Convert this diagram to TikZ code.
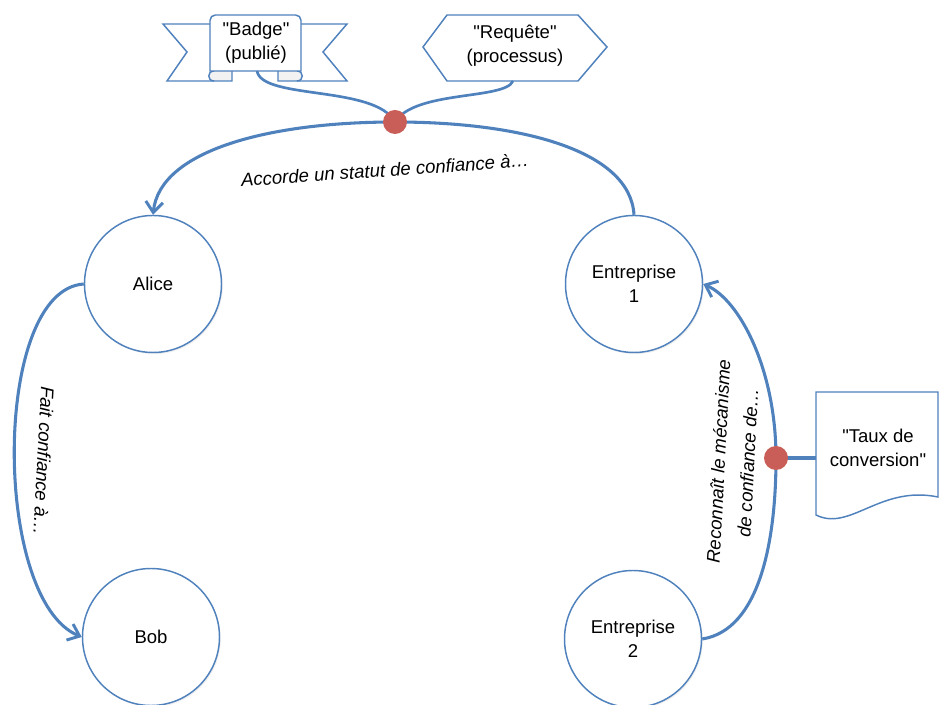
\documentclass[tikz,border=0pt]{standalone}
\usepackage{fontspec}
\setmainfont{Liberation Sans}
\usetikzlibrary{arrows.meta,shadows}
\definecolor{linkblue}{RGB}{79,129,189}
\definecolor{dotred}{RGB}{201,94,88}
\newcommand{\qq}{\textquotedbl}
\begin{document}
\begin{tikzpicture}[x=0.75pt,y=-0.75pt,
  txt/.style={font=\fontsize{13.9}{18}\selectfont, align=center, inner sep=0pt},
  actor/.style={txt, circle, draw=linkblue, line width=1.1pt, fill=white,
    minimum size=102.75pt,
    drop shadow={opacity=0.12, shadow xshift=1pt, shadow yshift=-1.2pt}},
  link/.style={draw=linkblue, line width=2.3pt},
  tip/.style={-{Straight Barb[length=8pt,width=13pt,line width=2.2pt]}},
  hub/.style={circle, fill=dotred, minimum size=18pt, inner sep=0pt},
  tag/.style={font=\fontsize{13.9}{22}\selectfont\itshape, align=center, inner sep=0pt},
  outline/.style={draw=linkblue, line width=1.1pt, fill=white}
]
\useasboundingbox (0,0) rectangle (940,705);

% participants
\node[actor] (alice) at (153,284) {Alice};
\node[actor] (bob)   at (151,637) {Bob};
\node[actor] (e1)    at (634,284) {Entreprise\\1};
\node[actor] (e2)    at (633,639) {Entreprise\\2};

% junction points
\coordinate (hubtop)   at (395,122);
\coordinate (hubright) at (776,458);

% "Badge" ribbon: wings, folds, front panel
\path[outline] (210,24) -- (163,24) -- (187,52) -- (167,81) -- (214,81);
\path[outline] (301,24) -- (347,24) -- (323,52) -- (347,81) -- (297,81);
\path[outline, fill=black!5] (232,70) -- (232,81) -- (214,81)
  .. controls (207,81) and (207,71) .. (214,71);
\path[outline, fill=black!5] (278,70) -- (278,81) -- (297,81)
  .. controls (304,81) and (304,71) .. (297,71);
\path[outline, rounded corners=4pt] (210,71) -- (210,15) -- (301,15)
  [sharp corners] -- (301,71) -- cycle;
\node[txt] (badge) at (256,43) {\qq Badge\qq\\(publié)};
\coordinate (badgefoot) at (257,71);

% "Requête" hexagon
\path[outline] (423,47) -- (447,15) -- (578,15) -- (607,47) -- (578,81) -- (447,81) -- cycle;
\node[txt] (req) at (515,46) {\qq Requête\qq\\(processus)};
\coordinate (reqfoot) at (513,81);

% "Taux de conversion" document
\path[outline] (816,515) -- (816,392) -- (938,392) -- (938,497)
  .. controls (880,485) and (850,532) .. (816,515) -- cycle;
\node[txt] (taux) at (878,448) {\qq Taux de\\conversion\qq};
\coordinate (docleft) at (816,458);

% feeders into the top junction
\draw[link, line width=2pt] (badgefoot) .. controls (262,100) and (375,85) .. (hubtop);
\draw[link, line width=2pt] (reqfoot) .. controls (505,100) and (415,90) .. (hubtop);

% relations
\draw[link, tip] (e1.north) .. controls (630,150) and (520,122) .. (hubtop)
  .. controls (270,122) and (160,150) .. (alice.north);
\draw[link, tip] (alice.west) .. controls (-8,290) and (-8,600) .. (bob.west);
\draw[link, tip] (e2.east) .. controls (760,630) and (776,540) .. (hubright)
  .. controls (776,370) and (740,300) .. (e1.east);
\draw[link] (hubright) -- (docleft);

\node[hub] (dot1) at (hubtop) {};
\node[hub] (dot2) at (hubright) {};

% relation labels
\node[tag, rotate=4]   (lab1) at (385,170) {Accorde un statut de confiance à…};
\node[tag, rotate=-93] (lab2) at (44,461) {Fait confiance à…};
\node[tag, rotate=87]  (lab3) at (733,462) {Reconnaît le mécanisme\\de confiance de…};
\end{tikzpicture}
\end{document}
